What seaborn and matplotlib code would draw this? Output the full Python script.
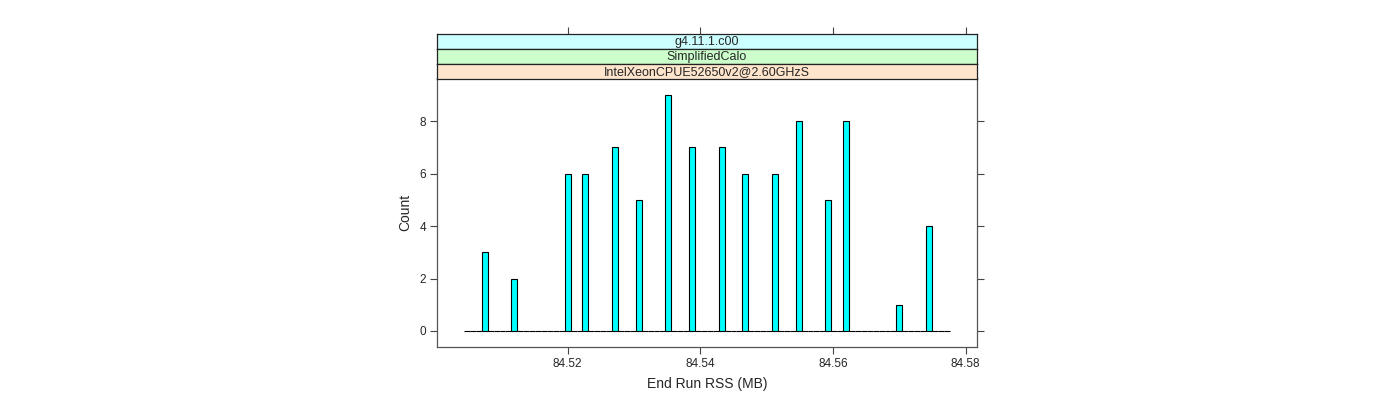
import matplotlib
matplotlib.use("Agg")
import matplotlib.pyplot as plt
import numpy as np
import pandas as pd
import seaborn as sns

sns.set_style("white")
plt.rcParams["font.family"] = ["Liberation Sans", "DejaVu Sans"]

# End Run RSS values (MB) and how many runs ended at each value
rss_values = [84.50749, 84.51201, 84.52000, 84.52271, 84.52716, 84.53070, 84.53523, 84.53869,
              84.54322, 84.54684, 84.55121, 84.55483, 84.55927, 84.56199, 84.56998, 84.57443]
run_counts = [3, 2, 6, 6, 7, 5, 9, 7, 7, 6, 6, 8, 5, 8, 1, 4]
strip_labels = ["g4.11.1.c00", "SimplifiedCalo", "IntelXeonCPUE52650v2@2.60GHzS"]
strip_colors = ["#CCFFFF", "#CCFFCC", "#FFE5CC"]
x_ticks = [84.52, 84.54, 84.56, 84.58]
y_ticks = [0, 2, 4, 6, 8]

df = pd.DataFrame({"rss": rss_values, "n": run_counts})

# equal width breaks as lattice drew them
edges = list(np.linspace(84.50437, 84.57759, 83))
xlim = (84.5003, 84.5817)

fig = plt.figure(figsize=(14, 4), dpi=100)
W, H = 1400.0, 400.0
ax = fig.add_axes([437 / W, 1 - 347 / H, 540 / W, 269 / H])

sns.histplot(data=df, x="rss", weights="n", bins=edges, ax=ax,
             color="#00FFFF", edgecolor="black", linewidth=0.8, alpha=1.0)
ax.set_xlim(*xlim)
ax.set_ylim(-0.61, 9.64)
ax.set_xticks(x_ticks)
ax.set_xticklabels([f"{t:.2f}" for t in x_ticks])
ax.set_yticks(y_ticks)
ax.tick_params(axis="both", direction="out", length=5, width=0.8, color="#444444",
               labelsize=8.5, pad=3, left=True, bottom=True, right=True, top=False)
ax.tick_params(axis="y", labelright=False)
for s in ax.spines.values():
    s.set_color("#555555")
    s.set_linewidth(0.9)
ax.set_xlabel("End Run RSS (MB)", fontsize=10, labelpad=5)
ax.set_ylabel("Count", fontsize=10, labelpad=5)

# strips stacked on top of the panel
strip_tops = [34, 49, 64]
for i, (lab, col) in enumerate(zip(strip_labels, strip_colors)):
    top = strip_tops[i]
    sax = fig.add_axes([437 / W, 1 - (top + 15) / H, 540 / W, 15 / H])
    sax.set_facecolor(col)
    sax.set_xlim(*xlim)
    sax.set_ylim(0, 1)
    sax.set_yticks([])
    if i == 0:
        sax.set_xticks(x_ticks)
        sax.tick_params(axis="x", direction="out", length=5, width=0.8, color="#444444",
                        top=True, bottom=False, labeltop=False, labelbottom=False)
    else:
        sax.set_xticks([])
    for s in sax.spines.values():
        s.set_color("#222222")
        s.set_linewidth(0.9)
    sax.text(0.5, 0.45, lab, transform=sax.transAxes, ha="center", va="center", fontsize=9)

fig.savefig("out.png", dpi=100)
